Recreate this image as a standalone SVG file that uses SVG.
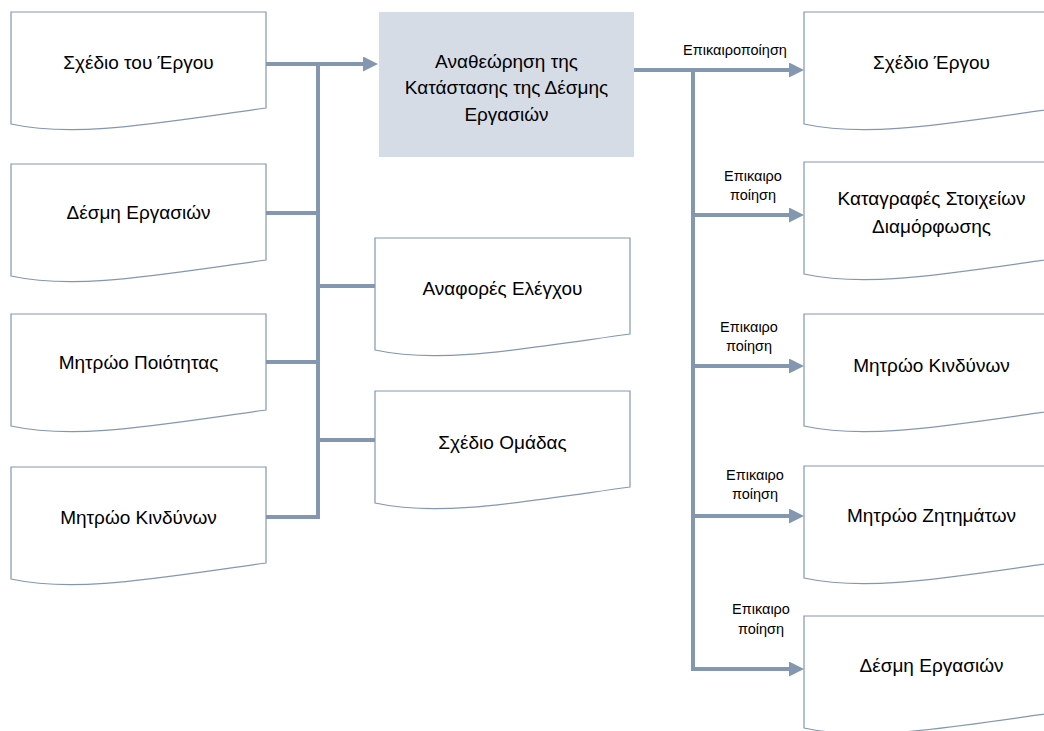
<svg xmlns="http://www.w3.org/2000/svg" width="1044" height="731" viewBox="0 0 1044 731">
  <style>
    .doc { fill: #ffffff; stroke: #8497b0; stroke-width: 1.2; }
    .proc { fill: #d6dce5; stroke: none; }
    .lbl { font-family: "Liberation Sans", Arial, sans-serif; font-size: 19px; fill: #000000; text-anchor: middle; dominant-baseline: central; }
    .small { font-family: "Liberation Sans", Arial, sans-serif; font-size: 14.5px; fill: #000000; text-anchor: middle; dominant-baseline: central; }
    .wire { fill: none; stroke: #8497b0; stroke-width: 4; stroke-linejoin: miter; }
  </style>
  <defs>
    <!-- document shape: 255 wide, wavy bottom edge -->
    <path id="docShape" d="M0,0 H255 V96 C140,112 64,126 0,112 Z"/>
    <marker id="arrow" markerUnits="userSpaceOnUse" markerWidth="15" markerHeight="15" refX="5" refY="7.5" orient="auto">
      <path d="M0,0 L15,7.5 L0,15 Z" fill="#8497b0"/>
    </marker>
  </defs>

  <!-- connectors -->
  <g id="connectors">
    <!-- inputs to the review step -->
    <path class="wire" d="M266,64 H368" marker-end="url(#arrow)"/>
    <path class="wire" d="M266,517 H318 V64"/>
    <path class="wire" d="M266,213 H318"/>
    <path class="wire" d="M266,362 H318"/>
    <path class="wire" d="M318,286 H375"/>
    <path class="wire" d="M318,440 H375"/>
    <!-- outputs of the review step -->
    <path class="wire" d="M634,70 H794" marker-end="url(#arrow)"/>
    <path class="wire" d="M693,70 V669 H794" marker-end="url(#arrow)"/>
    <path class="wire" d="M693,215 H794" marker-end="url(#arrow)"/>
    <path class="wire" d="M693,366 H794" marker-end="url(#arrow)"/>
    <path class="wire" d="M693,516 H794" marker-end="url(#arrow)"/>
    <text class="small" x="735" y="50">Επικαιροποίηση</text>
    <text class="small" x="753" y="176">Επικαιρο</text>
    <text class="small" x="753" y="195">ποίηση</text>
    <text class="small" x="749" y="327">Επικαιρο</text>
    <text class="small" x="749" y="346">ποίηση</text>
    <text class="small" x="755" y="475">Επικαιρο</text>
    <text class="small" x="755" y="494">ποίηση</text>
    <text class="small" x="761" y="609">Επικαιρο</text>
    <text class="small" x="761" y="629">ποίηση</text>
  </g>

  <!-- left column inputs -->
  <g id="in-project-plan">
    <use href="#docShape" class="doc" x="11" y="12"/>
    <text class="lbl" x="138.5" y="62">Σχέδιο του Έργου</text>
  </g>
  <g id="in-work-package">
    <use href="#docShape" class="doc" x="11" y="164"/>
    <text class="lbl" x="138.5" y="212">Δέσμη Εργασιών</text>
  </g>
  <g id="in-quality-register">
    <use href="#docShape" class="doc" x="11" y="314"/>
    <text class="lbl" x="138.5" y="362">Μητρώο Ποιότητας</text>
  </g>
  <g id="in-risk-register">
    <use href="#docShape" class="doc" x="11" y="467"/>
    <text class="lbl" x="138.5" y="517">Μητρώο Κινδύνων</text>
  </g>

  <!-- middle column inputs -->
  <g id="in-checkpoint-reports">
    <use href="#docShape" class="doc" x="375" y="238"/>
    <text class="lbl" x="502.5" y="288">Αναφορές Ελέγχου</text>
  </g>
  <g id="in-team-plan">
    <use href="#docShape" class="doc" x="375" y="391"/>
    <text class="lbl" x="502.5" y="442">Σχέδιο Ομάδας</text>
  </g>

  <!-- review step -->
  <g id="review-work-package-status">
    <rect class="proc" x="379" y="12" width="255" height="145"/>
    <text class="lbl" x="506.5" y="61">Αναθεώρηση της</text>
    <text class="lbl" x="506.5" y="87.5">Κατάστασης της Δέσμης</text>
    <text class="lbl" x="506.5" y="114">Εργασιών</text>
  </g>

  <!-- right column outputs -->
  <g id="out-project-plan">
    <use href="#docShape" class="doc" x="804" y="12"/>
    <text class="lbl" x="931.5" y="62">Σχέδιο Έργου</text>
  </g>
  <g id="out-configuration-item-records">
    <use href="#docShape" class="doc" x="804" y="162"/>
    <text class="lbl" x="931.5" y="198">Καταγραφές Στοιχείων</text>
    <text class="lbl" x="931.5" y="226">Διαμόρφωσης</text>
  </g>
  <g id="out-risk-register">
    <use href="#docShape" class="doc" x="804" y="314"/>
    <text class="lbl" x="931.5" y="365">Μητρώο Κινδύνων</text>
  </g>
  <g id="out-issue-register">
    <use href="#docShape" class="doc" x="804" y="466"/>
    <text class="lbl" x="931.5" y="515">Μητρώο Ζητημάτων</text>
  </g>
  <g id="out-work-package">
    <use href="#docShape" class="doc" x="804" y="616"/>
    <text class="lbl" x="931.5" y="665">Δέσμη Εργασιών</text>
  </g>
</svg>
